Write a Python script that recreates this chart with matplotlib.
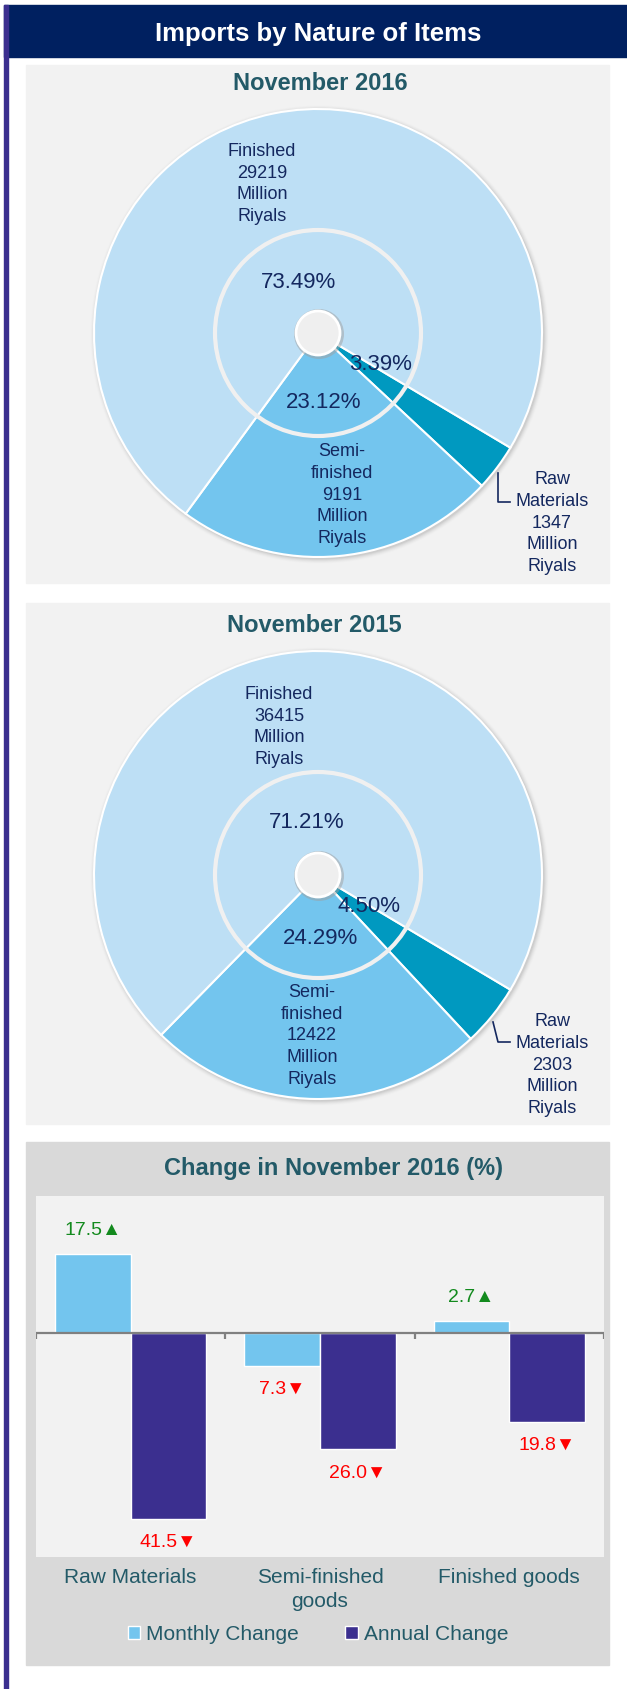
import matplotlib
matplotlib.use("Agg")
import matplotlib.pyplot as plt
from matplotlib import font_manager
from matplotlib.patches import Rectangle, Circle, Patch
import numpy as np

# ---- data ----
PIE_TITLES = ["November 2016", "November 2015"]
PIE_NAMES = ["Raw\nMaterials", "Semi-\nfinished", "Finished"]
PIE_2016 = [1347, 9191, 29219]      # million riyals
PIE_2015 = [2303, 12422, 36415]

BAR_TITLE = "Change in November 2016 (%)"
CATEGORIES = ["Raw Materials", "Semi-finished\ngoods", "Finished goods"]
MONTHLY = [17.5, -7.3, 2.7]
ANNUAL = [-41.5, -26.0, -19.8]

# ---- style ----
W, H = 627, 1689
NAVY = "#002060"
PURPLE = "#3B2F8F"
TEAL = "#235A68"
TXT = "#14285F"
PANEL = "#F2F2F2"
PANEL_DARK = "#D9D9D9"
WEDGE_COLORS = ["#0099C0", "#73C5EE", "#BDDFF5"]
MONTHLY_C = "#73C5EE"
GREEN = "#138A1E"
RED = "#FF0000"

names = {f.name for f in font_manager.fontManager.ttflist}
MAIN = next((f for f in ["Liberation Sans", "Roboto", "Noto Sans"] if f in names), "DejaVu Sans")
plt.rcParams["font.family"] = [MAIN, "DejaVu Sans"]


def rect(x0, y0, x1, y1):
    return [x0 / W, 1 - y1 / H, (x1 - x0) / W, (y1 - y0) / H]


fig = plt.figure(figsize=(W / 100, H / 100), dpi=100)
bg = fig.add_axes([0, 0, 1, 1])
bg.set_xlim(0, W)
bg.set_ylim(H, 0)
bg.axis("off")

# header, border and panels
bg.add_patch(Rectangle((4, 5), W - 4, 52, color=NAVY, zorder=1))
bg.add_patch(Rectangle((4, 5), 4, H - 5, color=PURPLE, zorder=2))
bg.add_patch(Rectangle((26, 65), 583, 518, color=PANEL, zorder=1))
bg.add_patch(Rectangle((26, 603), 583, 521, color=PANEL, zorder=1))
bg.add_patch(Rectangle((26, 1142), 583, 523, color=PANEL_DARK, zorder=1))
bg.text(318, 34, "Imports by Nature of Items", color="white", fontsize=18.5,
        fontweight="bold", ha="center", va="center")
bg.text(320, 83, PIE_TITLES[0], color=TEAL, fontsize=17, fontweight="bold",
        ha="center", va="center")
bg.text(314, 625, PIE_TITLES[1], color=TEAL, fontsize=17, fontweight="bold",
        ha="center", va="center")
bg.text(333, 1168, BAR_TITLE, color=TEAL, fontsize=17, fontweight="bold",
        ha="center", va="center")


def draw_pie(values, cx, cy, top, bottom, label_pos, pct_pos, leader):
    ax = fig.add_axes(rect(26, top, 609, bottom))
    R = 224
    # soft shadow
    for i, a in enumerate([0.12, 0.09, 0.06, 0.04, 0.02]):
        ax.add_patch(Circle((1.5, -1.5), R + 1 + i, color="#7a7a7a", alpha=a, lw=0, zorder=0))
    ax.pie(values, colors=WEDGE_COLORS, startangle=-30.8, counterclock=False,
           radius=R, center=(0, 0),
           wedgeprops=dict(edgecolor="white", linewidth=1.5, zorder=1))
    ax.add_patch(Circle((0, 0), 103, fill=False, edgecolor="#F0F0F0", lw=3, zorder=3))
    ax.add_patch(Circle((1, -1), 25, color="#a0a0a0", alpha=0.5, lw=0, zorder=3))
    ax.add_patch(Circle((0, 0), 22, facecolor="#EFEFEF", edgecolor="white", lw=2, zorder=4))
    total = sum(values)
    for name, v, (lx, ly), (px, py) in zip(PIE_NAMES, values, label_pos, pct_pos):
        ax.text(lx, ly, f"{name}\n{v}\nMillion\nRiyals", color=TXT, fontsize=13,
                ha="center", va="center", linespacing=1.35, zorder=5)
        ax.text(px, py, f"{100 * v / total:.2f}%", color=TXT, fontsize=16,
                ha="center", va="center", zorder=5)
    lx, ly = zip(*leader)
    ax.plot(lx, ly, color=TXT, lw=1.2, zorder=5)
    ax.set_xlim(26 - cx, 609 - cx)
    ax.set_ylim(cy - bottom, cy - top)
    ax.axis("off")


draw_pie(PIE_2016, 318, 333, 65, 583,
         label_pos=[(234, -190), (24, -162), (-56, 149)],
         pct_pos=[(63, -31), (6, -69), (-20, 51)],
         leader=[(180, -140), (180, -169), (192, -169)])
draw_pie(PIE_2015, 318, 875, 603, 1124,
         label_pos=[(234, -190), (-6, -161), (-39, 148)],
         pct_pos=[(51, -32), (2, -63), (-11, 52)],
         leader=[(175, -147), (180, -167), (192, -167)])

# ---- bar chart ----
ax = fig.add_axes(rect(36, 1196, 604, 1557))
ax.set_facecolor(PANEL)
x = np.arange(len(CATEGORIES))
w = 0.4
ax.bar(x - w / 2, MONTHLY, w, color=MONTHLY_C, edgecolor="white", lw=1, zorder=2)
ax.bar(x + w / 2, ANNUAL, w, color=PURPLE, edgecolor="white", lw=1, zorder=2)
ax.axhline(0, color="#808080", lw=1.6, zorder=3)
ax.vlines([-0.5, 0.5, 1.5, 2.5], -1.3, 0, color="#808080", lw=1.6, zorder=3)
for xs, vals in [(x - w / 2, MONTHLY), (x + w / 2, ANNUAL)]:
    for xi, v in zip(xs, vals):
        up = v > 0
        ax.annotate(f"{abs(v):.1f}{'▲' if up else '▼'}", (xi, v),
                    xytext=(0, 17 if up else -17), textcoords="offset points",
                    ha="center", va="center", fontsize=14,
                    color=GREEN if up else RED)
ax.set_xlim(-0.5, 2.5)
ax.set_ylim(-50, 30.5)
ax.set_yticks([])
ax.set_xticks(x)
ax.set_xticklabels(CATEGORIES, fontsize=15, color=TEAL, linespacing=1.35)
ax.tick_params(axis="x", length=0, pad=8)
for s in ax.spines.values():
    s.set_visible(False)

handles = [Patch(facecolor=MONTHLY_C, edgecolor="white", label="Monthly Change"),
           Patch(facecolor=PURPLE, edgecolor="white", label="Annual Change")]
leg = fig.legend(handles=handles, loc="center", bbox_to_anchor=(318 / W, 1 - 1634 / H),
                 ncol=2, frameon=False, fontsize=15, handlelength=0.6, handleheight=0.6,
                 handletextpad=0.3, columnspacing=2.2)
for t in leg.get_texts():
    t.set_color(TEAL)

fig.savefig("out.png", dpi=100)
